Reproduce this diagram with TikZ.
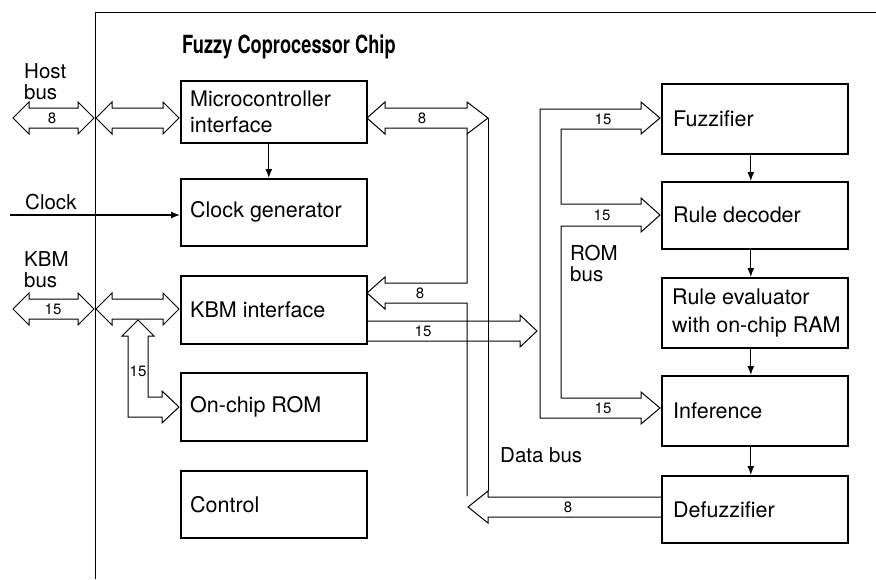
\documentclass[tikz,border=0pt]{standalone}
\usepackage{fontspec}
\usepackage{graphicx}
\setmainfont{TeX Gyre Heros}
\usetikzlibrary{arrows.meta}
\begin{document}
\begin{tikzpicture}[x=1pt,y=-1pt,
  box/.style={draw, line width=1.6pt, anchor=north west, inner sep=0pt, minimum width=186pt},
  txt/.style={anchor=west, inner sep=0pt, align=left, font=\fontsize{21.5}{26}\selectfont},
  bus/.style={draw, line width=1pt, line join=miter},
  num/.style={font=\fontsize{15}{15}\selectfont, inner sep=0pt},
  arr/.style={-{Latex[length=9pt,width=7pt]}, line width=1.2pt},
  lab/.style={font=\fontsize{20.5}{21}\selectfont, align=left, anchor=west, inner sep=0pt}]
\useasboundingbox (0,0) rectangle (876,579);

% chip border
\draw[line width=1pt] (95,579) -- (95,12) -- (876,12);
\node[anchor=west, inner sep=0pt] (title) at (182,47) {\scalebox{0.73}[1]{\fontsize{25}{25}\bfseries\selectfont Fuzzy Coprocessor Chip}};

% left boxes
\node[box, minimum height=62pt] (mci) at (180,80) {};
\node[box, minimum height=67pt] (clk) at (180,178) {};
\node[box, minimum height=68pt] (kbm) at (180,275) {};
\node[box, minimum height=68pt] (rom) at (180,372) {};
\node[box, minimum height=67pt] (ctl) at (180,470) {};
\node[txt] (mcit) at ([xshift=10pt]mci.west) {Microcontroller\\interface};
\node[txt] (clkt) at ([xshift=10pt]clk.west) {Clock generator};
\node[txt] (kbmt) at ([xshift=10pt]kbm.west) {KBM interface};
\node[txt] (romt) at ([xshift=10pt]rom.west) {On-chip ROM};
\node[txt] (ctlt) at ([xshift=10pt]ctl.west) {Control};

% right boxes
\node[box, minimum height=70pt] (fuz) at (661,83) {};
\node[box, minimum height=67pt] (rdec) at (661,181) {};
\node[box, minimum height=70pt] (reval) at (661,277) {};
\node[box, minimum height=70pt] (inf) at (661,375) {};
\node[box, minimum height=67pt] (dfz) at (661,475) {};
\node[txt] (fuzt) at ([xshift=12pt]fuz.west) {Fuzzifier};
\node[txt] (rdect) at ([xshift=12pt]rdec.west) {Rule decoder};
\node[txt, font=\fontsize{21.5}{28}\selectfont] (revalt) at ([xshift=11pt]reval.west) {Rule evaluator\\with on-chip RAM};
\node[txt] (inft) at ([xshift=12pt]inf.west) {Inference};
\node[txt] (dfzt) at ([xshift=12pt]dfz.west) {Defuzzifier};

% outside labels
\node[lab] (hostl) at (24,82) {Host\\bus};
\node[lab] (clockl) at (25,202) {Clock};
\node[lab] (kbml) at (24,270) {KBM\\bus};
\node[lab] (roml) at (570,263) {ROM\\bus};
\node[lab] (datal) at (500,455) {Data bus};

% host bus
\draw[bus] (13,118)--(29,102)--(29,108)--(78,108)--(78,102)--(94,118)--(78,134)--(78,128)--(29,128)--(29,134)--cycle;
\draw[bus] (96,118)--(112,102)--(112,108)--(163,108)--(163,102)--(179,118)--(163,134)--(163,128)--(112,128)--(112,134)--cycle;
% kbm bus
\draw[bus] (13,309)--(29,293)--(29,299)--(78,299)--(78,293)--(94,309)--(78,325)--(78,319)--(29,319)--(29,325)--cycle;
\draw[bus] (96,309)--(112,293)--(112,299)--(163,299)--(163,293)--(179,309)--(163,325)--(163,319)--(112,319)--(112,325)--cycle;
% kbm to on-chip ROM
\draw[bus] (138,320)--(154,336)--(148,336)--(148,397)--(162,397)--(162,391)--(179,407)--(162,423)--(162,417)--(128,417)--(128,336)--(122,336)--cycle;

% microcontroller to data bus
\draw[bus] (367,118)--(385,102)--(385,108)--(467,108)--(467,102)--(488,118)--(467,134)--(467,128)--(385,128)--(385,134)--cycle;
% data bus inner line with arrow to KBM interface
\draw[bus] (467,134)--(467,283)--(385,283)--(385,277)--(367,293)--(385,309)--(385,303)--(467,303)--(467,496);
% data bus outer line
\draw[bus] (488,118)--(488,491);
% KBM interface to ROM bus
\draw[bus] (367,321)--(520,321)--(520,315)--(537,331)--(520,347)--(520,341)--(367,341);
% defuzzifier to data bus
\draw[bus] (661,497)--(488,497)--(488,491)--(468,507)--(488,523)--(488,517)--(661,517);

% ROM bus
\draw[bus] (540,109)--(641,109)--(641,102)--(660,118)--(641,134)--(641,129)--(561,129)--(561,204)--(641,204)--(641,198)--(660,215)--(641,232)--(641,226)--(561,226)--(561,398)--(641,398)--(641,392)--(660,408)--(641,424)--(641,418)--(540,418)--cycle;

% bus widths
\node[num] (n1) at (52,118) {8};
\node[num] (n2) at (422,118) {8};
\node[num] (n3) at (603,119) {15};
\node[num] (n4) at (602,215) {15};
\node[num] (n5) at (603,408) {15};
\node[num] (n6) at (420,293) {8};
\node[num] (n7) at (423,331) {15};
\node[num] (n8) at (568,507) {8};
\node[num] (n9) at (53,309) {15};
\node[num] (n10) at (138,371) {15};

% control arrows
\draw[arr] ([xshift=-5pt]mci.south) -- ([xshift=-5pt]clk.north);
\coordinate (clkin) at (10,215);
\draw[arr] (clkin) -- (clkin -| clk.west);
\draw[arr] ([xshift=-4pt]fuz.south) -- ([xshift=-4pt]rdec.north);
\draw[arr] ([xshift=-4pt]rdec.south) -- ([xshift=-4pt]reval.north);
\draw[arr] ([xshift=-4pt]reval.south) -- ([xshift=-4pt]inf.north);
\draw[arr] ([xshift=-4pt]inf.south) -- ([xshift=-4pt]dfz.north);
\end{tikzpicture}
\end{document}
